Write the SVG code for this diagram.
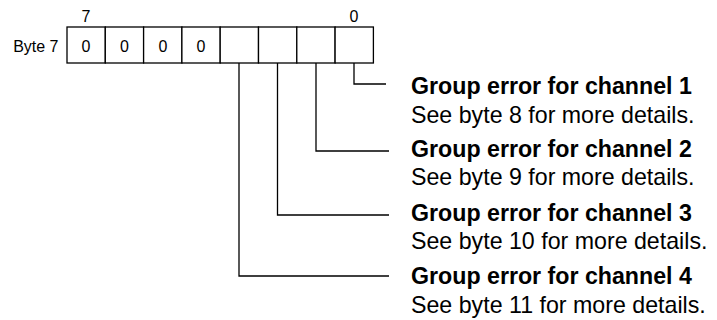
<svg xmlns="http://www.w3.org/2000/svg" width="717" height="320" viewBox="0 0 717 320">
  <style>
    .cell { fill: #fff; stroke: #000; stroke-width: 1.3; }
    .small { font-family: "Liberation Sans", Arial, sans-serif; font-size: 16px; fill: #000; }
    .title { font-family: "Liberation Sans", Arial, sans-serif; font-size: 23.2px; font-weight: bold; fill: #000; }
    .desc { font-family: "Liberation Sans", Arial, sans-serif; font-size: 23.2px; fill: #000; }
    .wire { fill: none; stroke: #000; stroke-width: 1.3; }
  </style>
  <rect width="717" height="320" fill="#fff"/>

  <!-- byte register with bit cells 7..0 -->
  <g id="byte7">
    <text class="small" x="58.5" y="51.5" text-anchor="end">Byte 7</text>
    <text class="small" x="86" y="21.5" text-anchor="middle">7</text>
    <text class="small" x="354" y="21.5" text-anchor="middle">0</text>
    <rect class="cell" x="67" y="27" width="38.3" height="36"/>
    <rect class="cell" x="105.3" y="27" width="38.3" height="36"/>
    <rect class="cell" x="143.6" y="27" width="38.3" height="36"/>
    <rect class="cell" x="181.9" y="27" width="38.3" height="36"/>
    <rect class="cell" x="220.2" y="27" width="38.3" height="36"/>
    <rect class="cell" x="258.5" y="27" width="38.3" height="36"/>
    <rect class="cell" x="296.8" y="27" width="38.3" height="36"/>
    <rect class="cell" x="335.1" y="27" width="38.3" height="36"/>
    <text class="small" x="86" y="51.5" text-anchor="middle">0</text>
    <text class="small" x="124.5" y="51.5" text-anchor="middle">0</text>
    <text class="small" x="163" y="51.5" text-anchor="middle">0</text>
    <text class="small" x="201" y="51.5" text-anchor="middle">0</text>
  </g>

  <!-- leader lines from bits 0..3 -->
  <g id="connectors">
    <polyline class="wire" points="354,63 354,84 386,84"/>
    <polyline class="wire" points="316,63 316,151 389,151"/>
    <polyline class="wire" points="277.5,63 277.5,215 389,215"/>
    <polyline class="wire" points="239,63 239,276 389,276"/>
  </g>

  <g id="ch1">
    <text class="title" x="411" y="94">Group error for channel 1</text>
    <text class="desc" x="411" y="123">See byte 8 for more details.</text>
  </g>
  <g id="ch2">
    <text class="title" x="411" y="157">Group error for channel 2</text>
    <text class="desc" x="411" y="185">See byte 9 for more details.</text>
  </g>
  <g id="ch3">
    <text class="title" x="411" y="221">Group error for channel 3</text>
    <text class="desc" x="411" y="249">See byte 10 for more details.</text>
  </g>
  <g id="ch4">
    <text class="title" x="411" y="284">Group error for channel 4</text>
    <text class="desc" x="411" y="313">See byte 11 for more details.</text>
  </g>
</svg>
